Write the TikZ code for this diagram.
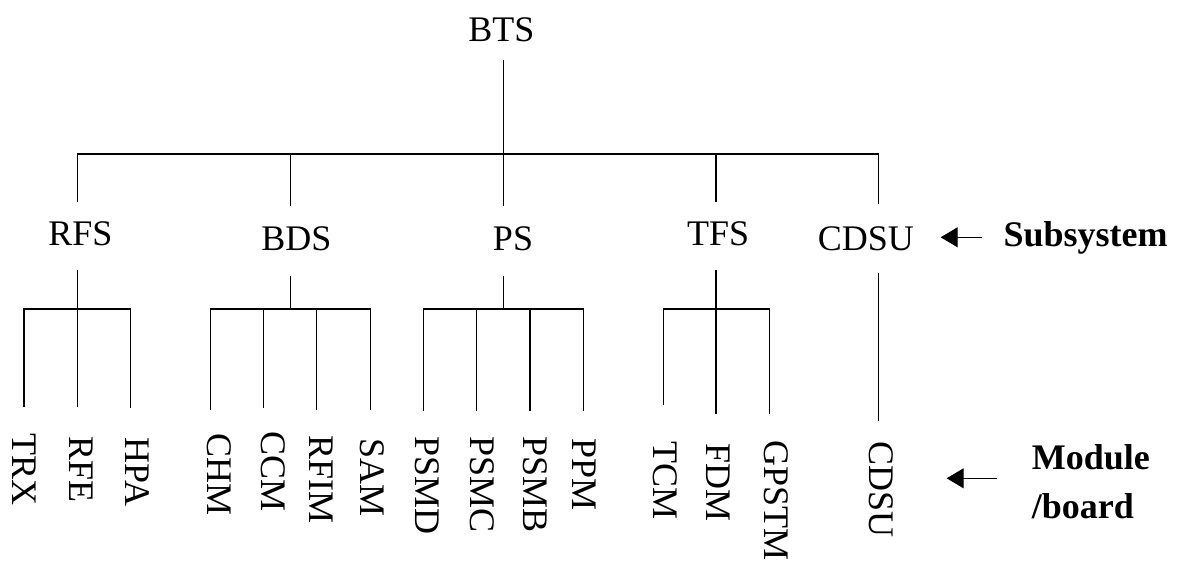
\documentclass[tikz,border=0pt]{standalone}
\usepackage{fontspec}
\setmainfont{Liberation Serif}
\usetikzlibrary{arrows.meta}
\begin{document}
\begin{tikzpicture}[x=1pt,y=-1pt,
  lbl/.style={inner sep=0pt,font=\fontsize{36}{43}\selectfont},
  sublbl/.style={lbl,anchor=base},
  modlbl/.style={lbl,rotate=-90,anchor=west},
  keylbl/.style={inner sep=0pt,font=\fontsize{36}{43}\selectfont\bfseries,anchor=base west},
  wire/.style={line width=1.1pt},
  pointer/.style={line width=1.1pt,-{Triangle[length=17pt,width=20pt]}}
]
\useasboundingbox (0,0) rectangle (1183,562);

% ---- root ----
\node[sublbl] (bts) at (501.3,41.7) {BTS};

% ---- subsystems ----
\node[sublbl] (rfs)  at (80.3,245.7)  {RFS};
\node[sublbl] (bds)  at (296.3,250.7) {BDS};
\node[sublbl] (ps)   at (513,250.7)   {PS};
\node[sublbl] (tfs)  at (718.2,245.7) {TFS};
\node[sublbl] (cdsu) at (865.8,250)   {CDSU};

% ---- modules / boards ----
\node[modlbl] (trx)   at (23.8,433.3)  {TRX};
\node[modlbl] (rfe)   at (81.3,436.7)  {RFE};
\node[modlbl] (hpa)   at (137,437.3)   {HPA};
\node[modlbl] (chm)   at (219,433.3)   {CHM};
\node[modlbl] (ccm)   at (273,431.7)   {CCM};
\node[modlbl] (rfim)  at (321,435)     {RFIM};
\node[modlbl] (sam)   at (372.5,438.3) {SAM};
\node[modlbl] (psmd)  at (427,436.7)   {PSMD};
\node[modlbl] (psmc)  at (482,436.7)   {PSMC};
\node[modlbl] (psmb)  at (535.5,436.7) {PSMB};
\node[modlbl] (ppm)   at (584,438.3)   {PPM};
\node[modlbl] (tcm)   at (665,441.7)   {TCM};
\node[modlbl] (fdm)   at (718.3,443.3) {FDM};
\node[modlbl] (gpstm) at (776.7,440)   {GPSTM};
\node[modlbl] (cdsum) at (881.3,441.7) {CDSU};

% ---- legend ----
\node[keylbl] (subsys) at (1003.3,246)   {Subsystem};
\node[keylbl] (module) at (1031.7,469.3) {Module};
\node[keylbl] (board)  at (1031.7,518.3) {/board};
\coordinate (subsys-tail) at (982.3,237.3);
\coordinate (subsys-tip)  at (940.7,237.3);
\coordinate (module-tail) at (996.7,478.3);
\coordinate (module-tip)  at (946.7,478.3);
\draw[pointer] (subsys-tail) -- (subsys-tip);
\draw[pointer] (module-tail) -- (module-tip);

% ---- BTS level connectors ----
\coordinate (bts-s)  at (503.3,60);
\coordinate (bar-c)  at (503.3,154);
\coordinate (rfs-n)  at (77.3,201.7);
\coordinate (bds-n)  at (290.3,205.7);
\coordinate (ps-n)   at (503.3,205.7);
\coordinate (tfs-n)  at (716,201.7);
\coordinate (cdsu-n) at (878.7,204.3);
\draw[wire] (rfs-n) |- (bar-c) -| (cdsu-n);
\draw[wire] (bts-s) -- (ps-n);
\draw[wire] (bds-n |- bar-c) -- (bds-n);
\draw[wire] (tfs-n |- bar-c) -- (tfs-n);

% ---- RFS group ----
\coordinate (rfs-s) at (77.3,270);
\coordinate (rfs-j) at (77.3,309);
\coordinate (trx-n) at (24,406.7);
\coordinate (rfe-n) at (77.3,406.7);
\coordinate (hpa-n) at (130.3,408.3);
\draw[wire] (trx-n) |- (rfs-j) -| (hpa-n);
\draw[wire] (rfs-s) -- (rfe-n);

% ---- BDS group ----
\coordinate (bds-s)  at (290.3,276);
\coordinate (bds-j)  at (290.3,309);
\coordinate (chm-n)  at (210.3,410);
\coordinate (ccm-n)  at (263.7,408);
\coordinate (rfim-n) at (316.7,410);
\coordinate (sam-n)  at (370.3,410);
\draw[wire] (chm-n) |- (bds-j) -| (sam-n);
\draw[wire] (bds-s) -- (bds-j);
\draw[wire] (ccm-n |- bds-j) -- (ccm-n);
\draw[wire] (rfim-n |- bds-j) -- (rfim-n);

% ---- PS group ----
\coordinate (ps-s)   at (503.3,276);
\coordinate (ps-j)   at (503.3,309);
\coordinate (psmd-n) at (423.3,410.7);
\coordinate (psmc-n) at (476.7,410.7);
\coordinate (psmb-n) at (530,410.7);
\coordinate (ppm-n)  at (583.3,410.7);
\draw[wire] (psmd-n) |- (ps-j) -| (ppm-n);
\draw[wire] (ps-s) -- (ps-j);
\draw[wire] (psmc-n |- ps-j) -- (psmc-n);
\draw[wire] (psmb-n |- ps-j) -- (psmb-n);

% ---- TFS group ----
\coordinate (tfs-s)   at (716,270);
\coordinate (tfs-j)   at (716,309);
\coordinate (tcm-n)   at (663.3,405);
\coordinate (fdm-n)   at (716,414);
\coordinate (gpstm-n) at (769.3,414);
\draw[wire] (tcm-n) |- (tfs-j) -| (gpstm-n);
\draw[wire] (tfs-s) -- (fdm-n);

% ---- CDSU ----
\coordinate (cdsu-s)  at (878.5,273.3);
\coordinate (cdsum-n) at (878.5,421);
\draw[wire] (cdsu-s) -- (cdsum-n);
\end{tikzpicture}
\end{document}
